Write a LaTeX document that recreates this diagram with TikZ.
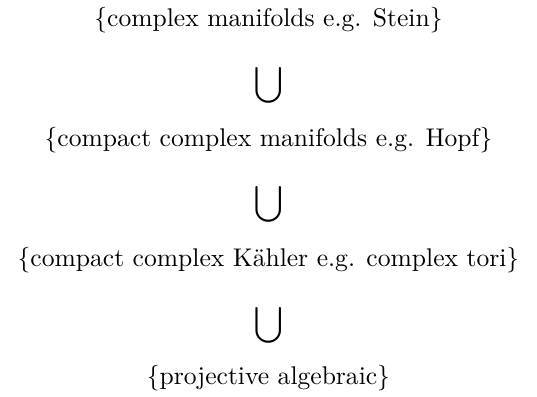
\documentclass[tikz,border=0pt]{standalone}
\usetikzlibrary{positioning}
\begin{document}
\begin{tikzpicture}[
  class/.style={inner sep=0pt},
  incl/.style={inner sep=0pt}
]
  \useasboundingbox (-105pt,7.8pt) rectangle (105pt,-147.1pt);
  \node[class] (stein) at (0,0) {$\{$complex manifolds e.g. Stein$\}$};
  \node[incl] (cup1) at (0,-25.6pt) {$\displaystyle\bigcup$};
  \node[class] (hopf) at (0,-46.9pt) {$\{$compact complex manifolds e.g. Hopf$\}$};
  \node[incl] (cup2) at (0,-72.3pt) {$\displaystyle\bigcup$};
  \node[class] (kahler) at (0,-93.8pt) {$\{$compact complex K\"ahler e.g. complex tori$\}$};
  \node[incl] (cup3) at (0,-119.4pt) {$\displaystyle\bigcup$};
  \node[class] (proj) at (0,-139.9pt) {$\{$projective algebraic$\}$};
\end{tikzpicture}
\end{document}
